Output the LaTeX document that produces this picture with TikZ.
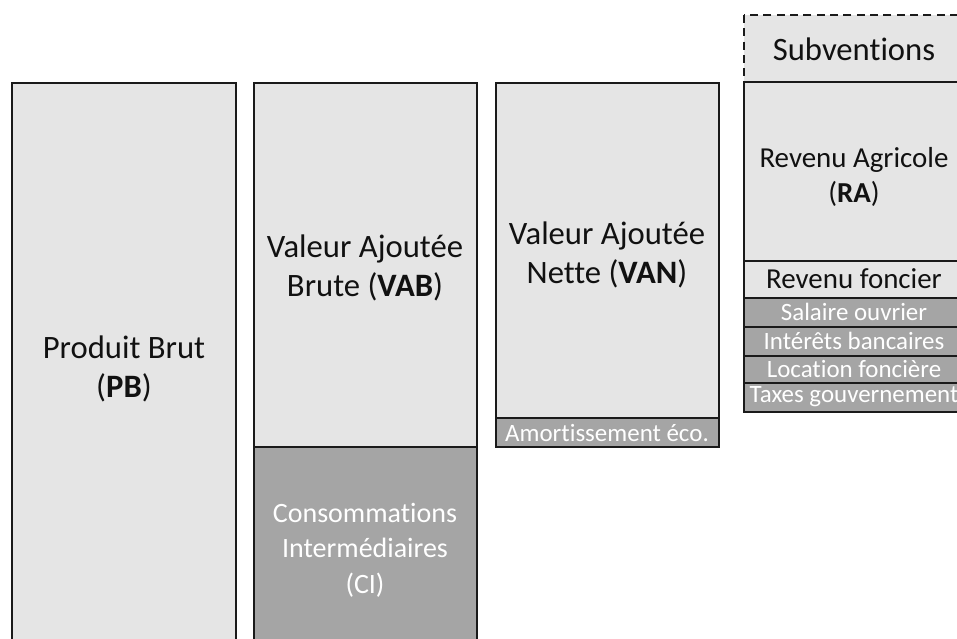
\documentclass[tikz,border=0pt]{standalone}
\usepackage{fontspec}
\setmainfont{Carlito}[Ligatures={NoCommon,NoRequired,NoContextual}]
\definecolor{lightbox}{HTML}{E5E5E5}
\definecolor{darkbox}{HTML}{A5A5A5}
\definecolor{edge}{HTML}{1A1A1A}
\definecolor{ink}{HTML}{111111}
\tikzset{
  lbox/.style={fill=lightbox, draw=edge, line width=1.3pt},
  dbox/.style={fill=darkbox, draw=edge, line width=1.3pt},
  dashbox/.style={fill=lightbox, draw=edge, line width=1.3pt, dash pattern=on 6pt off 4pt},
  bigtxt/.style={align=center, text=ink, font=\fontsize{24.5}{29.5}\selectfont},
  citxt/.style={align=center, text=white, font=\fontsize{21}{26.5}\selectfont},
  midtxt/.style={align=center, text=ink, font=\fontsize{21.7}{26}\selectfont},
  smalltxt/.style={align=center, text=white, font=\fontsize{18.7}{20}\selectfont, inner sep=0pt},
}
\begin{document}
\begin{tikzpicture}[x=0.75pt, y=-0.75pt]
\useasboundingbox (0,0) rectangle (957,639);
\clip (0,0) rectangle (957,639);
% Produit Brut
\path[lbox] (12,83) rectangle (236,660);
\node[bigtxt] (pb) at (124,369) {Produit Brut\\(\textbf{PB})};
% VAB and CI
\path[lbox] (254,83) rectangle (477,447);
\path[dbox] (254,447) rectangle (477,660);
\node[bigtxt] (vab) at (365,268) {Valeur Ajoutée\\Brute (\textbf{VAB})};
\node[citxt] (ci) at (365,550) {Consommations\\Intermédiaires\\(CI)};
% VAN
\path[lbox] (496,83) rectangle (719,418);
\path[dbox] (496,418) rectangle (719,447);
\node[bigtxt] (van) at (607,255) {Valeur Ajoutée\\Nette (\textbf{VAN})};
\node[smalltxt] (amo) at (607,433) {Amortissement éco.};
% Right column
\path[dashbox] (744,15) rectangle (964,82);
\node[bigtxt] (sub) at (854,49) {Subventions};
\path[lbox] (744,82) rectangle (964,261);
\draw[edge, line width=1.3pt, dash pattern=on 6pt off 4pt] (744,82) -- (964,82);
\node[midtxt] (ra) at (854,177) {Revenu Agricole\\(\textbf{RA})};
\path[lbox] (744,261) rectangle (964,298);
\node[midtxt] (rf) at (854,279) {Revenu foncier};
\path[dbox] (744,298) rectangle (964,327);
\node[smalltxt] (sal) at (854,312) {Salaire ouvrier};
\path[dbox] (744,327) rectangle (964,356);
\node[smalltxt] (int) at (854,341) {Intérêts bancaires};
\path[dbox] (744,356) rectangle (964,383);
\node[smalltxt] (loc) at (854,369) {Location foncière};
\path[dbox] (744,383) rectangle (964,412);
\node[smalltxt] (tax) at (854,397) {Taxes gouvernement};
\end{tikzpicture}
\end{document}
